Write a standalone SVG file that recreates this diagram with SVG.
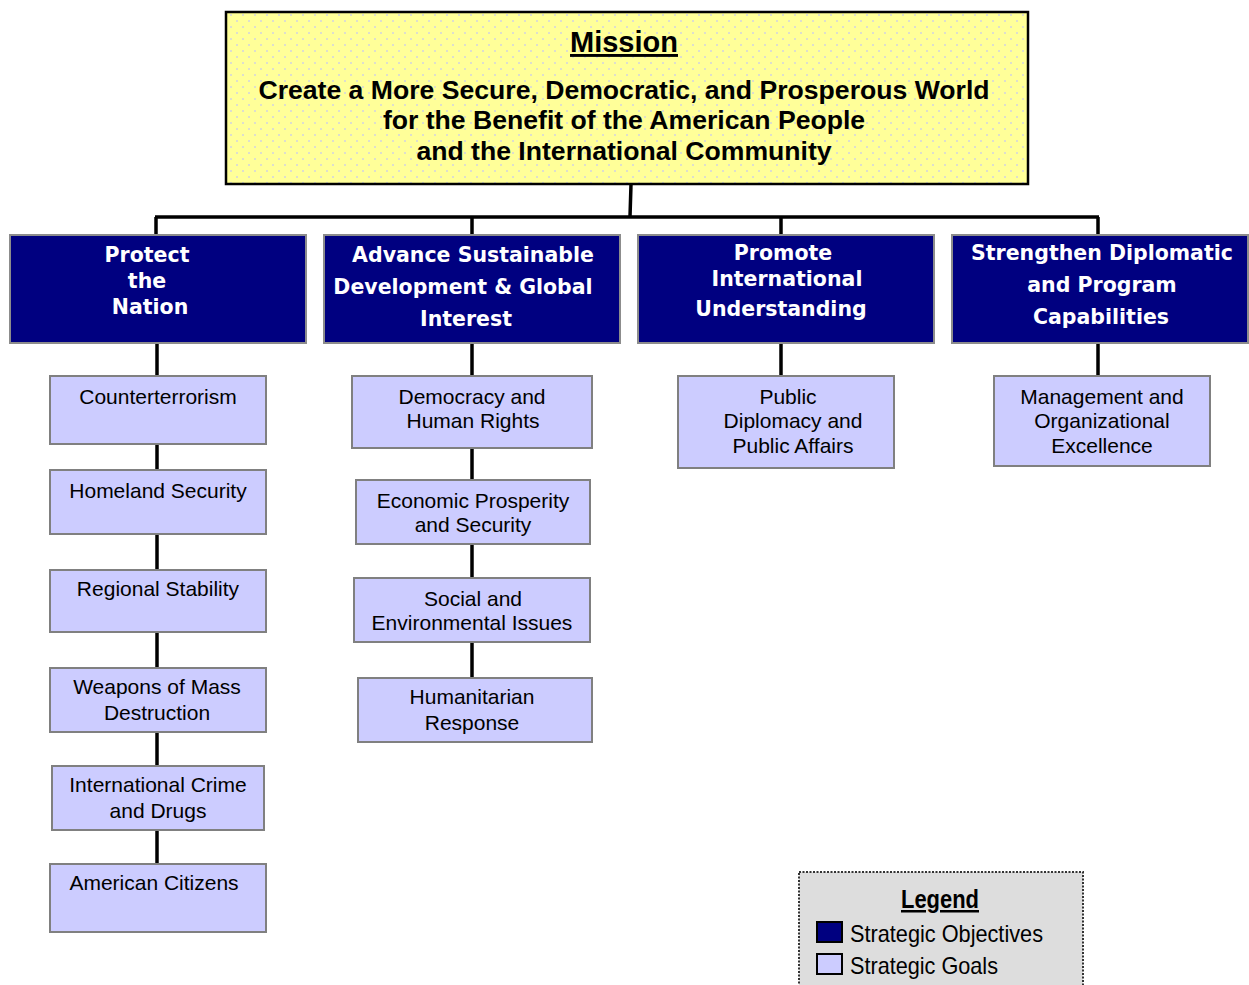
<svg xmlns="http://www.w3.org/2000/svg" width="1249" height="985" viewBox="0 0 1249 985">
<defs>
<pattern id="dots" width="12" height="12" patternUnits="userSpaceOnUse">
<rect width="12" height="12" fill="#FFFF99"/>
<circle cx="3" cy="3" r="1" fill="#D2D4E0"/>
<circle cx="9" cy="9" r="1" fill="#D2D4E0"/>
</pattern>
<style>
.obj{fill:#000080;stroke:#8C8C8C;stroke-width:2}
.goal{fill:#CCCCFF;stroke:#808080;stroke-width:2}
.ot{font-family:"DejaVu Sans",sans-serif;font-weight:bold;font-size:20.5px;fill:#FFFFFF;text-anchor:middle}
.gt{font-family:"Liberation Sans",Arial,sans-serif;font-size:21px;fill:#000000;text-anchor:middle}
.mt{font-family:"Liberation Sans",Arial,sans-serif;font-weight:bold;font-size:26.6px;fill:#000000;text-anchor:middle}
.con{stroke:#000000;stroke-width:3.5;fill:none}
.lt{font-family:"Liberation Sans Narrow","Liberation Sans",Arial,sans-serif;font-size:24px;fill:#000000}
</style>
</defs>
<rect width="1249" height="985" fill="#FFFFFF"/>

<g id="connectors">
<path class="con" d="M631,184 L630,217"/>
<path class="con" d="M155,217 L1099,217"/>
<path class="con" d="M156,217 V235 M472,217 V235 M781,217 V235 M1098,217 V235"/>
<path class="con" d="M157,343 V864"/>
<path class="con" d="M472,343 V678"/>
<path class="con" d="M781,343 V376"/>
<path class="con" d="M1098,343 V376"/>
</g>

<g id="mission">
<rect x="226" y="12" width="802" height="172" fill="url(#dots)" stroke="#000000" stroke-width="2.5"/>
<text x="624" y="52" font-family="Liberation Sans,Arial,sans-serif" font-weight="bold" font-size="29" text-anchor="middle" text-decoration="underline">Mission</text>
<text class="mt" x="624" y="99">Create a More Secure, Democratic, and Prosperous World</text>
<text class="mt" x="624" y="129">for the Benefit of the American People</text>
<text class="mt" x="624" y="160">and the International Community</text>
</g>

<g id="obj-protect">
<rect class="obj" x="10" y="235" width="296" height="108"/>
<text class="ot" x="147" y="262">Protect</text>
<text class="ot" x="147" y="288">the</text>
<text class="ot" x="150" y="314">Nation</text>
</g>
<g id="obj-advance">
<rect class="obj" x="324" y="235" width="296" height="108"/>
<text class="ot" x="473" y="262">Advance Sustainable</text>
<text class="ot" x="463" y="294">Development &amp; Global</text>
<text class="ot" x="466" y="326">Interest</text>
</g>
<g id="obj-promote">
<rect class="obj" x="638" y="235" width="296" height="108"/>
<text class="ot" x="783" y="260">Promote</text>
<text class="ot" x="787" y="286">International</text>
<text class="ot" x="781" y="316">Understanding</text>
</g>
<g id="obj-strengthen">
<rect class="obj" x="952" y="235" width="296" height="108"/>
<text class="ot" x="1102" y="260">Strengthen Diplomatic</text>
<text class="ot" x="1102" y="292">and Program</text>
<text class="ot" x="1101" y="324">Capabilities</text>
</g>

<g id="goal-counterterrorism">
<rect class="goal" x="50" y="376" width="216" height="68"/>
<text class="gt" x="158" y="404">Counterterrorism</text>
</g>
<g id="goal-homeland">
<rect class="goal" x="50" y="470" width="216" height="64"/>
<text class="gt" x="158" y="498">Homeland Security</text>
</g>
<g id="goal-regional">
<rect class="goal" x="50" y="570" width="216" height="62"/>
<text class="gt" x="158" y="596">Regional Stability</text>
</g>
<g id="goal-wmd">
<rect class="goal" x="50" y="668" width="216" height="64"/>
<text class="gt" x="157" y="694">Weapons of Mass</text>
<text class="gt" x="157" y="720">Destruction</text>
</g>
<g id="goal-crime">
<rect class="goal" x="52" y="766" width="212" height="64"/>
<text class="gt" x="158" y="792">International Crime</text>
<text class="gt" x="158" y="818">and Drugs</text>
</g>
<g id="goal-citizens">
<rect class="goal" x="50" y="864" width="216" height="68"/>
<text class="gt" x="154" y="890">American Citizens</text>
</g>

<g id="goal-democracy">
<rect class="goal" x="352" y="376" width="240" height="72"/>
<text class="gt" x="472" y="404">Democracy and</text>
<text class="gt" x="473" y="428">Human Rights</text>
</g>
<g id="goal-economic">
<rect class="goal" x="356" y="480" width="234" height="64"/>
<text class="gt" x="473" y="508">Economic Prosperity</text>
<text class="gt" x="473" y="532">and Security</text>
</g>
<g id="goal-social">
<rect class="goal" x="354" y="578" width="236" height="64"/>
<text class="gt" x="473" y="606">Social and</text>
<text class="gt" x="472" y="630">Environmental Issues</text>
</g>
<g id="goal-humanitarian">
<rect class="goal" x="358" y="678" width="234" height="64"/>
<text class="gt" x="472" y="704">Humanitarian</text>
<text class="gt" x="472" y="730">Response</text>
</g>

<g id="goal-public">
<rect class="goal" x="678" y="376" width="216" height="92"/>
<text class="gt" x="788" y="404">Public</text>
<text class="gt" x="793" y="428">Diplomacy and</text>
<text class="gt" x="793" y="453">Public Affairs</text>
</g>

<g id="goal-management">
<rect class="goal" x="994" y="376" width="216" height="90"/>
<text class="gt" x="1102" y="404">Management and</text>
<text class="gt" x="1102" y="428">Organizational</text>
<text class="gt" x="1102" y="453">Excellence</text>
</g>

<g id="legend">
<rect x="799" y="872" width="284" height="120" fill="#DDDDDD" stroke="#333333" stroke-width="2" stroke-dasharray="2,1.5"/>
<text x="940" y="908" font-family="Liberation Sans Narrow,Liberation Sans,Arial,sans-serif" font-weight="bold" font-size="25" text-anchor="middle" text-decoration="underline" textLength="78" lengthAdjust="spacingAndGlyphs">Legend</text>
<rect x="817" y="922" width="25" height="20" fill="#000080" stroke="#000000" stroke-width="2"/>
<text class="lt" x="850" y="942" textLength="193" lengthAdjust="spacingAndGlyphs">Strategic Objectives</text>
<rect x="817" y="954" width="25" height="20" fill="#CCCCFF" stroke="#000000" stroke-width="2"/>
<text class="lt" x="850" y="974" textLength="148" lengthAdjust="spacingAndGlyphs">Strategic Goals</text>
</g>
</svg>
